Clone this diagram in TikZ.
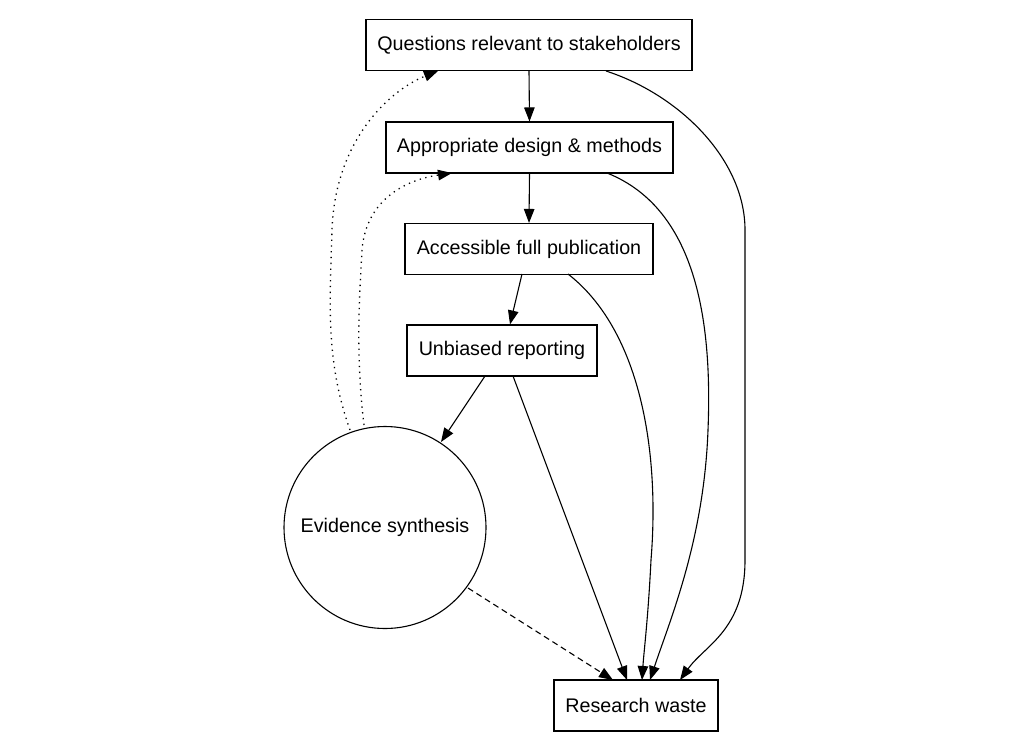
\documentclass[tikz,border=0pt]{standalone}
\usepackage{fontspec}
\setmainfont{Liberation Sans}
\usetikzlibrary{arrows.meta}
\begin{document}
\begin{tikzpicture}[x=1pt,y=-1pt,
  box/.style={draw,line width=1.1pt,minimum height=51pt,inner sep=0pt,font=\fontsize{19.7}{23}\selectfont},
  circ/.style={draw,circle,line width=1.1pt,minimum size=202pt,inner sep=0pt,font=\fontsize{19.7}{23}\selectfont},
  edge/.style={line width=1.1pt,-{Triangle[length=14pt,width=10.5pt]}},
  dotedge/.style={edge,dotted,line width=1.3pt,dash pattern=on 1.3pt off 4.5pt},
  dashedge/.style={edge,dash pattern=on 6pt off 4pt}]
\useasboundingbox (0,0) rectangle (1030,750);
\node[box,minimum width=326pt] (q) at (529,45) {Questions relevant to stakeholders};
\node[box,minimum width=287pt] (a) at (529.5,147.5) {Appropriate design \& methods};
\node[box,minimum width=248pt] (f) at (529,249) {Accessible full publication};
\node[box,minimum width=190pt] (u) at (502,350.5) {Unbiased reporting};
\node[circ] (e) at (385,527.5) {Evidence synthesis};
\node[box,minimum width=164pt] (r) at (636,705.5) {Research waste};

\draw[edge] (q.south) -- (a.north);
\draw[edge] (a.south) -- (f.north);
\draw[edge] (522,274) -- (u.north -| 510,0);
\draw[edge] (485,376) -- (441,442);
\draw[edge] (513,376) -- (627,680);
\draw[edge] (568,274) .. controls (640,330) and (660,450) .. (651,560) .. controls (648,620) and (644,650) .. (642,680);
\draw[edge] (607,173) .. controls (700,210) and (712,330) .. (708,430) .. controls (704,540) and (670,620) .. (650,680);
\draw[edge] (606,71) .. controls (680,95) and (745,160) .. (745,230) .. controls (745,330) and (745,480) .. (745,560) .. controls (745,630) and (705,645) .. (680,680);
\draw[dashedge] (468,588) -- (613,680);
\draw[dotedge] (350,430) .. controls (325,360) and (330,300) .. (332,230) .. controls (335,140) and (390,90) .. (438,71);
\draw[dotedge] (364,425) .. controls (355,350) and (360,290) .. (362,250) .. controls (366,200) and (405,180) .. (452,173);
\end{tikzpicture}
\end{document}
